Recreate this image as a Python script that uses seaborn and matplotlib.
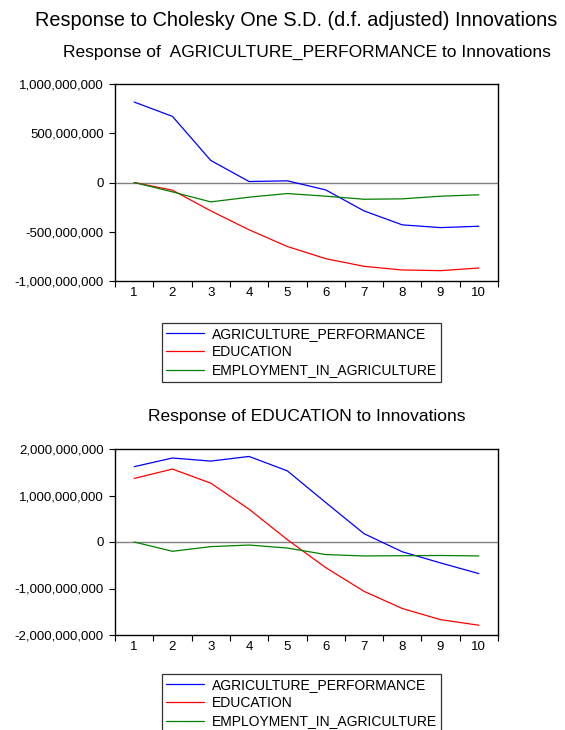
import numpy as np
import pandas as pd
import matplotlib
matplotlib.use('Agg')
import matplotlib.pyplot as plt
import seaborn as sns
from matplotlib.ticker import FuncFormatter, FixedLocator

# ── data (units = 1e9) ──
periods = [1, 2, 3, 4, 5, 6, 7, 8, 9, 10]
shocks  = ['AGRICULTURE_PERFORMANCE', 'EDUCATION', 'EMPLOYMENT_IN_AGRICULTURE']

# Response of AGRICULTURE_PERFORMANCE
agr_to_agr  = [0.817, 0.671, 0.224, 0.010, 0.017, -0.075, -0.288, -0.430, -0.458, -0.444]
agr_to_edu  = [0.0, -0.078, -0.288, -0.480, -0.650, -0.773, -0.851, -0.888, -0.895, -0.868]
agr_to_emp  = [0.0, -0.095, -0.197, -0.149, -0.112, -0.139, -0.170, -0.166, -0.139, -0.125]

# Response of EDUCATION
edu_to_agr  = [1.62, 1.806, 1.74, 1.84, 1.53, 0.85, 0.18, -0.21, -0.45, -0.68]
edu_to_edu  = [1.367, 1.568, 1.266, 0.705, 0.05, -0.55, -1.06, -1.43, -1.67, -1.79]
edu_to_emp  = [0.0, -0.20, -0.10, -0.065, -0.13, -0.27, -0.30, -0.295, -0.29, -0.30]

colors = ['#0000ff', '#ff0000', '#008000']
FONT = ['Liberation Sans', 'DejaVu Sans']


def long_df(series):
    rows = []
    for name, vals in zip(shocks, series):
        for p, v in zip(periods, vals):
            rows.append({'period': p, 'shock': name, 'value': v * 1e9})
    return pd.DataFrame(rows)


sns.set_style('white')
plt.rcParams['font.family'] = FONT
plt.rcParams['text.color'] = 'black'
plt.rcParams['xtick.color'] = 'black'
plt.rcParams['ytick.color'] = 'black'

fig = plt.figure(figsize=(5.65, 7.3), dpi=100)
W, H = 565, 730


def px_axes(x0, y0, x1, y1):
    return fig.add_axes([x0 / W, 1 - y1 / H, (x1 - x0) / W, (y1 - y0) / H])


def style_axes(ax, ylim, yticks):
    ax.axhline(0, color='#808080', lw=1.0, zorder=1)
    ax.set_xlim(0.5, 10.5)
    ax.set_ylim(*ylim)
    ax.set_yticks(yticks)
    ax.yaxis.set_major_formatter(FuncFormatter(lambda v, _: f'{v:,.0f}'))
    # tick marks sit between periods, labels sit on periods
    ax.xaxis.set_major_locator(FixedLocator(np.arange(0.5, 11, 1)))
    ax.xaxis.set_minor_locator(FixedLocator(periods))
    ax.set_xticklabels([])
    ax.set_xticks(periods, [str(p) for p in periods], minor=True)
    ax.tick_params(axis='x', which='major', direction='out', length=4, width=0.8, color='black')
    ax.tick_params(axis='x', which='minor', length=0, labelsize=9.5, pad=4)
    ax.tick_params(axis='y', direction='out', length=4, width=0.8, color='black', labelsize=9.5, pad=4)
    ax.tick_params(bottom=True, left=True, which='major')
    for s in ax.spines.values():
        s.set_color('black')
        s.set_linewidth(1.0)
    ax.set_xlabel('')
    ax.set_ylabel('')
    ax.grid(False)


# ── panel 1 ──
ax1 = px_axes(115, 84, 498, 281)
sns.lineplot(data=long_df([agr_to_agr, agr_to_edu, agr_to_emp]), x='period', y='value',
             hue='shock', palette=colors, lw=0.9, ax=ax1, legend=False)
style_axes(ax1, (-1e9, 1e9), [-1e9, -5e8, 0, 5e8, 1e9])
fig.text(307 / W, 1 - 52 / H, 'Response of  AGRICULTURE_PERFORMANCE to Innovations',
         fontsize=12.5, ha='center', va='center')

# ── panel 2 ──
ax2 = px_axes(115, 449, 498, 635)
sns.lineplot(data=long_df([edu_to_agr, edu_to_edu, edu_to_emp]), x='period', y='value',
             hue='shock', palette=colors, lw=0.9, ax=ax2, legend=False)
style_axes(ax2, (-2e9, 2e9), [-2e9, -1e9, 0, 1e9, 2e9])
fig.text(307 / W, 1 - 416 / H, 'Response of EDUCATION to Innovations',
         fontsize=12.5, ha='center', va='center')

fig.text(296 / W, 1 - 20 / H, 'Response to Cholesky One S.D. (d.f. adjusted) Innovations',
         fontsize=14.3, ha='center', va='center')

# ── legends ──
handles = [plt.Line2D([], [], color=c, lw=0.9) for c in colors]
for top in (323, 674):
    leg = fig.legend(handles, shocks, loc='upper left',
                     bbox_to_anchor=(162 / W, 1 - top / H), fontsize=10,
                     frameon=True, fancybox=False, edgecolor='black',
                     handlelength=2.7, handletextpad=0.6, labelspacing=0.3,
                     borderpad=0.3, borderaxespad=0)
    leg.get_frame().set_linewidth(0.9)

fig.savefig('out.png', dpi=100)
